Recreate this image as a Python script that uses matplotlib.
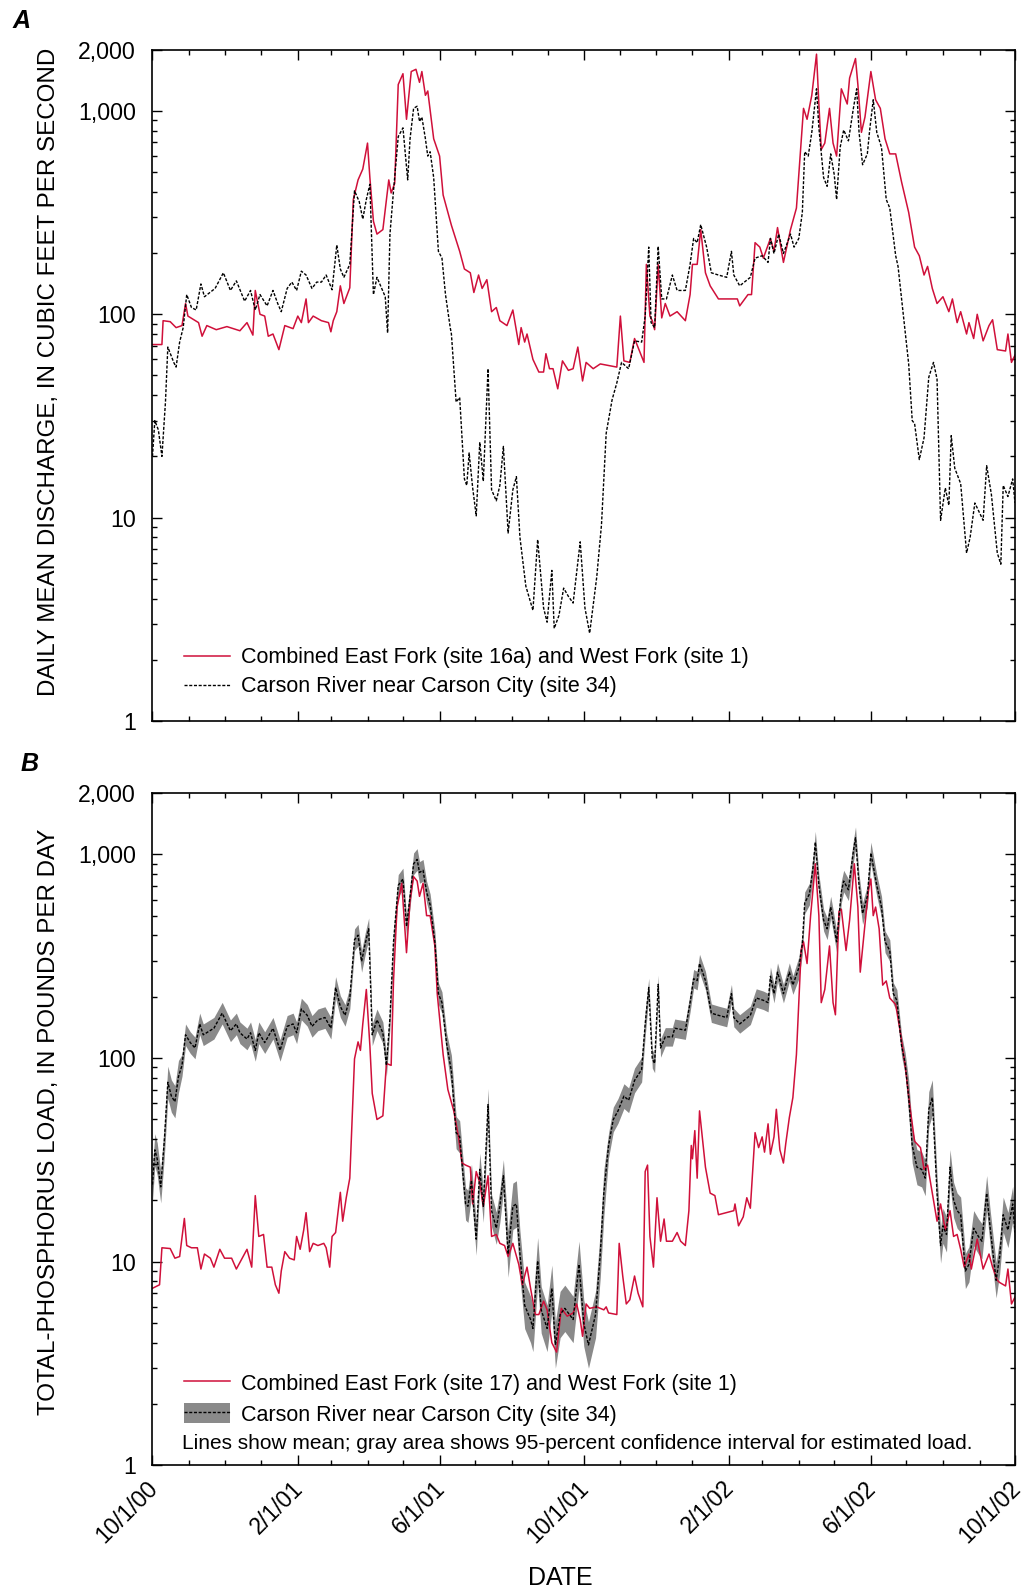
import numpy as np
import pandas as pd
import matplotlib
matplotlib.use('Agg')
import matplotlib.pyplot as plt
import matplotlib.dates as mdates
from matplotlib.lines import Line2D
from matplotlib.patches import Patch
from matplotlib.legend_handler import HandlerTuple
from matplotlib.ticker import FixedLocator, NullFormatter, FuncFormatter
from matplotlib.transforms import ScaledTranslation

plt.rcParams['font.family'] = ['Liberation Sans', 'DejaVu Sans']

start = pd.Timestamp('2000-10-01')

# (days since 10/1/00, value)
# panel A: daily mean discharge, cfs
forks_q = [(0, 71), (8, 71), (9, 93), (15, 92), (20, 86), (25, 88), (28, 113), (30, 98), (39, 91), (42, 78),
           (46, 88), (54, 84), (63, 87), (74, 83), (80, 91), (85, 79), (87, 131), (91, 100), (95, 98), (98, 78),
           (102, 80), (107, 67), (112, 88), (119, 85), (123, 98), (126, 91), (130, 119), (132, 91), (136, 98),
           (143, 93), (149, 91), (151, 82), (153, 93), (156, 103), (159, 138), (162, 113), (167, 135), (170, 367),
           (174, 458), (178, 518), (182, 695), (184, 470), (187, 287), (190, 248), (195, 261), (200, 458),
           (202, 395), (205, 440), (208, 1349), (212, 1525), (215, 910), (219, 1563), (223, 1603), (226, 1383),
           (228, 1563), (231, 1194), (233, 1254), (238, 730), (243, 600), (246, 386), (253, 274), (260, 204),
           (264, 167), (269, 160), (272, 128), (276, 156), (279, 134), (283, 148), (287, 103), (291, 108),
           (294, 93), (300, 88), (305, 105), (310, 71), (312, 86), (315, 73), (317, 80), (322, 60), (327, 52),
           (331, 52), (333, 64), (336, 54), (339, 54), (343, 43), (347, 59), (352, 53), (356, 54), (360, 69),
           (364, 47), (367, 58), (373, 54), (379, 57), (393, 55), (396, 98), (399, 59), (404, 58), (408, 76),
           (416, 58), (418, 176), (421, 98), (423, 93), (425, 84), (428, 176), (431, 96), (434, 113), (438, 98),
           (444, 103), (451, 93), (455, 125), (457, 176), (461, 176), (464, 261), (468, 160), (472, 138),
           (479, 119), (495, 119), (497, 110), (504, 125), (507, 125), (510, 225), (514, 214), (517, 189),
           (523, 236), (526, 204), (529, 267), (534, 180), (540, 261), (545, 333), (551, 1030), (554, 910),
           (558, 1194), (562, 1903), (564, 1082), (566, 646), (569, 695), (573, 1030), (576, 695), (579, 600),
           (583, 1285), (588, 1082), (590, 1452), (595, 1811), (597, 1349), (600, 785), (603, 933), (608, 1563),
           (612, 1135), (616, 1030), (620, 730), (624, 615), (629, 615), (634, 447), (640, 317), (645, 214),
           (649, 194), (653, 156), (656, 172), (660, 134), (664, 113), (669, 122), (674, 103), (677, 119),
           (681, 91), (684, 103), (689, 80), (691, 91), (695, 76), (698, 100), (703, 74), (708, 88), (711, 94),
           (715, 67), (722, 66), (724, 80), (727, 58), (730, 63)]

carson_q = [(0, 20), (2, 30), (5, 27), (8, 20), (11, 37), (13, 69), (18, 58), (20, 55), (23, 73), (26, 86),
            (29, 125), (33, 108), (37, 105), (41, 141), (44, 122), (53, 134), (60, 160), (66, 131), (71, 146),
            (78, 116), (83, 131), (87, 105), (91, 125), (97, 110), (102, 131), (106, 113), (109, 103), (114, 134),
            (118, 144), (122, 131), (126, 163), (130, 156), (135, 134), (139, 144), (143, 144), (147, 156),
            (152, 132), (156, 219), (159, 167), (162, 152), (167, 176), (171, 405), (175, 358), (178, 294),
            (181, 367), (184, 436), (187, 125), (190, 152), (197, 122), (199, 81), (201, 248), (204, 405),
            (208, 748), (212, 826), (216, 458), (218, 730), (221, 1030), (224, 1055), (226, 888), (228, 933),
            (231, 730), (233, 600), (235, 630), (238, 470), (242, 204), (245, 189), (248, 125), (252, 86),
            (253, 80), (257, 37), (260, 39), (264, 15.5), (266, 14.4), (268, 20.8), (271, 14), (274, 10.2),
            (277, 23.5), (280, 15.1), (284, 54), (287, 13.7), (291, 12.1), (294, 14.4), (297, 22.4), (301, 8.4),
            (305, 13.7), (308, 15.9), (311, 8.0), (316, 4.6), (322, 3.5), (326, 7.8), (331, 3.6), (334, 3.06),
            (338, 5.5), (340, 2.85), (344, 3.3), (348, 4.5), (352, 4.1), (356, 3.8), (362, 7.6), (366, 3.6),
            (370, 2.7), (376, 5.1), (380, 9.2), (384, 26), (389, 38), (393, 46), (397, 58), (403, 54), (408, 74),
            (414, 73), (417, 98), (420, 214), (422, 91), (425, 86), (428, 216), (431, 119), (435, 119), (440, 156),
            (444, 131), (451, 131), (455, 176), (458, 236), (461, 225), (464, 276), (469, 214), (473, 160),
            (479, 156), (486, 152), (490, 204), (492, 156), (497, 138), (506, 152), (510, 189), (516, 194),
            (521, 180), (523, 236), (526, 199), (530, 248), (534, 199), (540, 248), (543, 214), (547, 236),
            (550, 317), (552, 630), (555, 600), (558, 785), (562, 1285), (564, 826), (568, 470), (571, 426),
            (574, 615), (577, 486), (579, 367), (582, 662), (585, 806), (589, 713), (593, 1013), (596, 1285),
            (598, 785), (601, 544), (605, 615), (607, 806), (610, 1135), (613, 785), (617, 662), (621, 367),
            (624, 333), (629, 194), (631, 172), (636, 93), (640, 57), (643, 30), (645, 29), (649, 19.3),
            (653, 24.7), (657, 49), (661, 58), (664, 48), (667, 9.7), (671, 14), (674, 11.5), (676, 25.3),
            (679, 17.5), (684, 14.7), (689, 6.7), (692, 8.0), (696, 11.8), (703, 9.7), (706, 18), (710, 13),
            (715, 6.7), (718, 5.9), (720, 14.4), (724, 12.7), (728, 15.5), (730, 11.8)]

# panel B: total-phosphorus load, lb/day
forks_p = [(0, 7.4), (6, 7.7), (8, 11.7), (15, 11.6), (19, 10.4), (23, 10.6), (27, 16.3), (29, 12), (33, 11.7),
           (38, 11.7), (41, 9.2), (44, 10.9), (49, 10.4), (52, 9.4), (57, 11.5), (61, 10.4), (67, 10.4), (71, 9.2),
           (76, 10.4), (80, 11.5), (84, 9.4), (87, 21.1), (90, 13.3), (94, 13.6), (97, 9.4), (101, 9.4), (104, 7.7),
           (107, 7.0), (109, 9.0), (112, 11.2), (116, 10.4), (120, 10.2), (122, 13.3), (125, 11.5), (128, 14.3),
           (130, 17.4), (133, 11.2), (136, 12.3), (140, 12.0), (145, 12.3), (147, 11.7), (150, 9.4), (152, 13.3),
           (155, 13.9), (159, 21.9), (161, 15.8), (164, 20.6), (167, 25.7), (171, 99), (174, 120), (176, 109),
           (178, 147), (181, 217), (184, 115), (186, 67), (190, 49.9), (195, 52), (198, 94), (202, 92), (204, 239),
           (207, 551), (211, 721), (215, 329), (218, 593), (221, 777), (224, 739), (226, 622), (229, 721),
           (232, 500), (235, 500), (239, 355), (241, 207), (246, 104), (250, 70), (255, 55), (259, 41),
           (262, 30.5), (265, 29.8), (269, 29.1), (271, 19.2), (274, 27.7), (277, 24.5), (280, 18.7), (284, 26.4),
           (287, 13.3), (291, 13.6), (294, 12.3), (298, 12), (301, 10.6), (305, 12.3), (310, 9.7), (313, 7.7),
           (317, 9.4), (320, 7.4), (324, 5.5), (327, 5.5), (331, 6.4), (334, 5.8), (338, 4.0), (342, 3.6),
           (346, 5.9), (351, 5.4), (356, 5.6), (359, 6.2), (362, 5.2), (364, 4.3), (367, 6.2), (370, 5.9),
           (376, 6.0), (382, 5.8), (384, 6.0), (386, 5.6), (393, 5.5), (395, 12.3), (398, 8.5), (401, 6.2),
           (404, 6.5), (408, 8.5), (411, 7.0), (415, 6.0), (417, 27.7), (419, 29.8), (421, 13.3), (424, 9.4),
           (427, 20.6), (430, 12.6), (433, 16.2), (435, 12.6), (440, 12.6), (444, 13.9), (447, 12.6), (451, 12.0),
           (454, 17.8), (456, 37.2), (457, 32), (459, 44), (461, 25.7), (463, 55), (468, 29.1), (472, 21.7),
           (476, 21.1), (479, 17), (492, 17.8), (493, 19.2), (496, 15), (500, 16.6), (503, 20.6), (506, 18.3),
           (510, 43), (513, 36.3), (516, 41), (518, 34.5), (521, 47.5), (523, 33.7), (526, 41), (528, 56),
           (531, 35.4), (534, 30.5), (536, 38.1), (539, 51), (542, 64), (545, 104), (549, 337), (551, 372),
           (554, 291), (557, 500), (561, 899), (564, 500), (566, 187), (569, 217), (573, 355), (576, 187),
           (578, 163), (581, 525), (583, 538), (587, 337), (590, 475), (594, 899), (597, 551), (599, 264),
           (603, 453), (606, 670), (608, 757), (610, 500), (612, 551), (615, 431), (618, 228), (621, 239),
           (624, 197), (629, 183), (633, 133), (637, 92), (641, 58), (645, 39), (650, 36.3), (653, 28.4),
           (656, 29.8), (660, 21.7), (664, 15.8), (667, 19.2), (671, 14.3), (675, 17.8), (678, 13.3), (681, 13.6),
           (684, 11.5), (687, 9.4), (691, 10.9), (693, 9.2), (698, 12.9), (703, 9.2), (708, 10.9), (711, 9.4),
           (715, 8.1), (717, 7.9), (722, 7.6), (724, 9.2), (727, 6.2), (730, 6.7)]

carson_p = [(0, 23.9), (2, 35.4), (4, 32), (7, 23.3), (10, 39), (13, 76), (16, 65), (19, 61), (22, 81), (25, 92),
            (28, 130), (32, 119), (36, 112), (40, 147), (43, 130), (52, 140), (59, 166), (66, 136), (71, 147),
            (74, 133), (80, 124), (83, 133), (87, 109), (90, 133), (95, 119), (102, 140), (108, 109), (114, 143),
            (119, 147), (122, 133), (126, 174), (131, 162), (135, 143), (140, 154), (146, 158), (151, 140),
            (155, 222), (159, 179), (163, 162), (167, 197), (171, 381), (174, 401), (177, 298), (180, 363),
            (183, 431), (186, 130), (190, 154), (195, 133), (198, 92), (201, 158), (204, 372), (208, 704),
            (212, 757), (215, 442), (218, 622), (221, 899), (224, 944), (226, 815), (229, 835), (232, 654),
            (235, 565), (239, 372), (242, 207), (245, 187), (249, 117), (253, 86), (257, 43), (260, 41),
            (265, 19.2), (267, 18.7), (270, 25.1), (274, 12.9), (277, 28.4), (280, 18.7), (284, 59), (287, 17.8),
            (291, 14.6), (294, 18.7), (297, 26.4), (301, 10.9), (305, 18.7), (308, 19.2), (311, 10.9), (315, 6.1),
            (320, 5.2), (322, 4.7), (326, 10.1), (329, 5.8), (334, 4.7), (338, 7.4), (341, 3.9), (345, 5.5),
            (349, 5.9), (356, 5.2), (361, 9.7), (365, 5.0), (369, 3.9), (375, 5.5), (379, 10.9), (382, 21.7),
            (386, 37.2), (390, 49.9), (394, 55), (399, 65), (403, 62), (408, 77.6), (414, 87.7), (417, 147),
            (420, 222), (423, 99), (425, 94), (428, 230), (430, 112), (434, 127), (440, 127), (442, 140),
            (451, 137), (455, 187), (458, 245), (461, 240), (463, 291), (468, 240), (473, 166), (479, 162),
            (486, 158), (490, 207), (492, 158), (497, 147), (506, 162), (511, 197), (517, 192), (521, 187),
            (523, 252), (526, 207), (529, 264), (534, 207), (539, 264), (542, 228), (547, 277), (550, 363),
            (552, 578), (556, 638), (559, 857), (561, 1148), (564, 704), (568, 475), (571, 431), (574, 551),
            (576, 475), (579, 372), (583, 654), (585, 739), (589, 670), (593, 1016), (595, 1207), (598, 704),
            (601, 512), (605, 622), (608, 1016), (611, 815), (613, 704), (617, 551), (620, 372), (624, 337),
            (627, 207), (630, 192), (634, 115), (637, 94), (640, 64), (643, 37.2), (647, 29.1), (651, 28.4),
            (654, 25.7), (657, 56), (660, 64), (664, 21.7), (667, 12.0), (669, 15), (672, 13.6), (675, 29.1),
            (678, 20.1), (681, 17.8), (684, 17), (688, 9.0), (691, 9.7), (695, 14.6), (699, 13.3), (702, 12.6),
            (706, 21.7), (709, 14.6), (714, 8.1), (717, 10.6), (720, 17), (724, 14.3), (728, 19.2), (730, 13.9)]

# half-width of the 95% confidence band, in percent, by period (start day, pct)
ci_periods = [(0, 20), (25, 13), (250, 20), (300, 30), (385, 15), (420, 11), (545, 13), (640, 22)]

x_tick_dates = ['2000-10-01', '2001-02-01', '2001-06-01', '2001-10-01', '2002-02-01', '2002-06-01', '2002-10-01']
y_ticks = [1, 10, 100, 1000, 2000]
y_tick_labels = ['1', '10', '100', '1,000', '2,000']

RED = '#d0103a'
GRAY = '#8a8a8a'


def to_dates(points):
    d, v = zip(*points)
    return start + pd.to_timedelta(np.array(d), unit='D'), np.array(v, dtype=float)


def style_axes(ax, show_dates):
    ax.set_yscale('log')
    ax.set_ylim(1, 2000)
    ax.set_xlim(start, pd.Timestamp('2002-10-01'))
    ax.yaxis.set_major_locator(FixedLocator(y_ticks))
    ax.yaxis.set_major_formatter(FuncFormatter(lambda v, p: y_tick_labels[y_ticks.index(int(round(v)))]
                                               if int(round(v)) in y_ticks else ''))
    minors = [m * 10 ** e for e in range(0, 3) for m in range(2, 10)]
    ax.yaxis.set_minor_locator(FixedLocator(minors))
    ax.yaxis.set_minor_formatter(NullFormatter())
    ax.xaxis.set_major_locator(FixedLocator(mdates.date2num(pd.to_datetime(x_tick_dates))))
    ax.xaxis.set_minor_locator(mdates.MonthLocator())
    ax.xaxis.set_major_formatter(FuncFormatter(
        lambda v, p: '{}/{}/{}'.format(mdates.num2date(v).month, mdates.num2date(v).day,
                                       mdates.num2date(v).strftime('%y'))))
    ax.tick_params(which='both', direction='in', top=True, right=True, width=1.0, labelsize=16.7)
    ax.tick_params(which='major', length=7)
    ax.tick_params(which='minor', length=3.8)
    ax.tick_params(axis='y', which='major', pad=12)
    for s in ax.spines.values():
        s.set_linewidth(1.2)
    if show_dates:
        ax.tick_params(axis='x', which='major', pad=8)
        off = ScaledTranslation(10 / 100, 0, ax.figure.dpi_scale_trans)
        for lab in ax.get_xticklabels():
            lab.set_rotation(45)
            lab.set_ha('right')
            lab.set_transform(lab.get_transform() + off)
    else:
        ax.tick_params(axis='x', labelbottom=False)


fig = plt.figure(figsize=(10.26, 15.95), dpi=100)
axA = fig.add_axes([0.1486, 0.5480, 0.8407, 0.4208])
axB = fig.add_axes([0.1486, 0.0813, 0.8407, 0.4215])

# panel A
t, v = to_dates(forks_q)
axA.plot(t, v, color=RED, lw=1.1)
t, v = to_dates(carson_q)
axA.plot(t, v, color='black', lw=1.0, dashes=(2.2, 1.2))
style_axes(axA, False)
hA = [Line2D([], [], color=RED, lw=1.1),
      Line2D([], [], color='black', lw=1.0, dashes=(2.2, 1.2))]
axA.legend(hA, ['Combined East Fork (site 16a) and West Fork (site 1)',
                'Carson River near Carson City (site 34)'],
           loc='lower left', bbox_to_anchor=(0.0365, 0.035), frameon=False, fontsize=15.5,
           handlelength=2.15, handletextpad=0.5, labelspacing=0.37, borderpad=0, borderaxespad=0)

# panel B
t, v = to_dates(carson_p)
ci_start, ci_pct = zip(*ci_periods)
days = np.array([p[0] for p in carson_p])
pct = np.array(ci_pct)[np.searchsorted(ci_start, days, side='right') - 1]
fac = 1 + pct / 100.0
axB.fill_between(t, v / fac, v * fac, color=GRAY, lw=0)
t2, v2 = to_dates(forks_p)
axB.plot(t2, v2, color=RED, lw=1.1)
axB.plot(t, v, color='black', lw=1.0, dashes=(2.2, 1.2))
style_axes(axB, True)
hB = [Line2D([], [], color=RED, lw=1.1),
      (Patch(facecolor=GRAY, edgecolor='none'), Line2D([], [], color='black', lw=1.0, dashes=(2.2, 1.2)))]
axB.legend(hB, ['Combined East Fork (site 17) and West Fork (site 1)',
                'Carson River near Carson City (site 34)'],
           handler_map={tuple: HandlerTuple(ndivide=1)},
           loc='lower left', bbox_to_anchor=(0.0365, 0.059), frameon=False, fontsize=15.5,
           handlelength=2.15, handleheight=1.05, handletextpad=0.5, labelspacing=0.38,
           borderpad=0, borderaxespad=0)
axB.text(0.034, 0.033, 'Lines show mean; gray area shows 95-percent confidence interval for estimated load.',
         transform=axB.transAxes, fontsize=15, va='center', ha='left')

# labels
fig.text(0.012, 0.987, 'A', fontsize=18, fontweight='bold', fontstyle='italic', va='center')
fig.text(0.020, 0.5207, 'B', fontsize=18, fontweight='bold', fontstyle='italic', va='center')
fig.text(0.048, 0.7668, 'DAILY MEAN DISCHARGE, IN CUBIC FEET PER SECOND', rotation=90,
         fontsize=17.4, ha='center', va='center')
fig.text(0.048, 0.2966, 'TOTAL-PHOSPHORUS LOAD, IN POUNDS PER DAY', rotation=90,
         fontsize=17.4, ha='center', va='center')
fig.text(0.546, 0.0107, 'DATE', fontsize=18, ha='center', va='center')

fig.savefig('out.png', dpi=100)
